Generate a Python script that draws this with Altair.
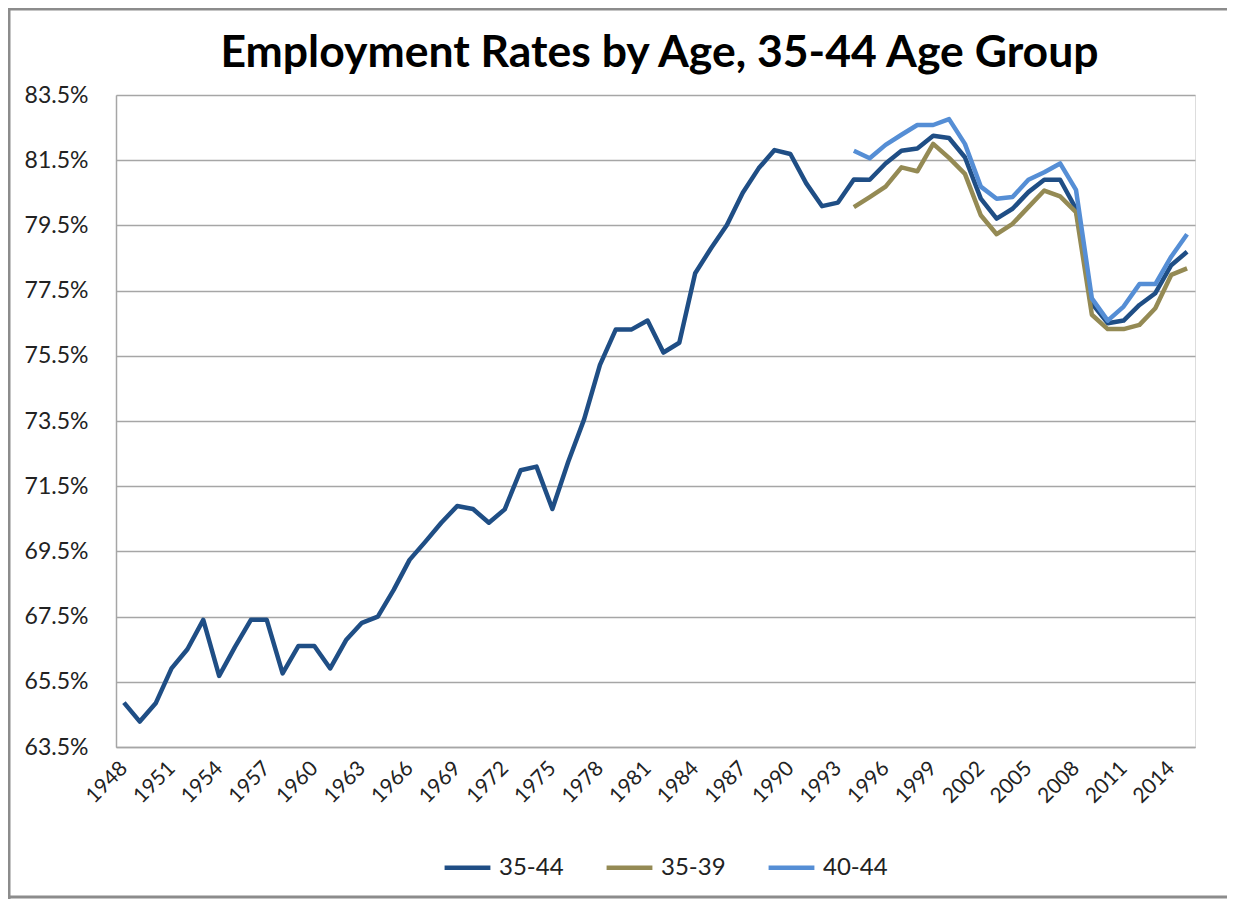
import altair as alt
import pandas as pd

years = list(range(1948, 2016))
rate_35_44 = [
    64.86, 64.28, 64.84, 65.91, 66.50, 67.40, 65.68, 66.57, 67.40, 67.40,
    65.76, 66.60, 66.60, 65.91, 66.78, 67.31, 67.50, 68.32, 69.24, 69.80,
    70.38, 70.89, 70.80, 70.38, 70.79, 71.99, 72.10, 70.80, 72.25, 73.55,
    75.22, 76.31, 76.31, 76.58, 75.60, 75.90, 78.03, 78.80, 79.51, 80.50,
    81.25, 81.81, 81.69, 80.79, 80.09, 80.20, 80.91, 80.90, 81.40, 81.79,
    81.86, 82.25, 82.18, 81.59, 80.32, 79.71, 80.01, 80.52, 80.90, 80.90,
    80.01, 77.11, 76.50, 76.58, 77.06, 77.42, 78.28, 78.69,
]
years_sub = list(range(1994, 2016))
rate_35_39 = [
    80.06, 80.37, 80.69, 81.28, 81.16, 82.00, 81.57, 81.08, 79.81, 79.23,
    79.55, 80.06, 80.57, 80.39, 79.91, 76.76, 76.32, 76.32, 76.45, 76.96,
    77.98, 78.18,
]
rate_40_44 = [
    81.79, 81.56, 81.97, 82.28, 82.58, 82.58, 82.76, 82.00, 80.69, 80.32,
    80.37, 80.90, 81.13, 81.40, 80.59, 77.26, 76.58, 77.01, 77.70, 77.70,
    78.54, 79.23,
]
series_names = ["35-44", "35-39", "40-44"]
series_colors = ["#1F4E85", "#948A54", "#558ED5"]
y_ticks = [63.5, 65.5, 67.5, 69.5, 71.5, 73.5, 75.5, 77.5, 79.5, 81.5, 83.5]
x_labels = list(range(1948, 2016, 3))
title_text = ["Employment Rates by Age, 35-44 Age Group"]

rows = []
for yr, v in zip(years, rate_35_44):
    rows.append({"year": yr, "rate": v, "series": "35-44"})
for yr, v in zip(years_sub, rate_35_39):
    rows.append({"year": yr, "rate": v, "series": "35-39"})
for yr, v in zip(years_sub, rate_40_44):
    rows.append({"year": yr, "rate": v, "series": "40-44"})
df = pd.DataFrame(rows)
title_df = pd.DataFrame({"title": title_text})

W, H = 1079, 652
FONT = "Lato"

lines = alt.Chart(df).mark_line(strokeWidth=4.5, strokeJoin="round").encode(
    x=alt.X("year:O", title=None,
            scale=alt.Scale(type="point", padding=0.5),
            axis=alt.Axis(values=x_labels, labelAngle=-45, labelAlign="right",
                          labelBaseline="middle", labelPadding=18, ticks=False,
                          grid=False, domain=True, domainColor="#A6A6A6",
                          domainWidth=1.5, labelFont=FONT, labelFontSize=21,
                          labelColor="#222222")),
    y=alt.Y("rate:Q", title=None,
            scale=alt.Scale(domain=[63.5, 83.5], nice=False, zero=False),
            axis=alt.Axis(values=y_ticks, labelExpr="format(datum.value, '.1f') + '%'",
                          ticks=False, grid=True, gridColor="#A6A6A6", gridWidth=1.5,
                          domain=True, domainColor="#A6A6A6", domainWidth=1.5,
                          labelFont=FONT, labelFontSize=23, labelColor="#222222",
                          labelPadding=28)),
    color=alt.Color("series:N",
                    scale=alt.Scale(domain=series_names, range=series_colors),
                    sort=series_names,
                    legend=alt.Legend(title=None, orient="none", direction="horizontal",
                                      legendX=326, legendY=747, symbolType="stroke",
                                      symbolSize=2100, symbolStrokeWidth=4.5,
                                      labelFont=FONT, labelFontSize=24,
                                      labelColor="#222222", labelOffset=6,
                                      columnPadding=33)),
    order=alt.Order("year:O"),
)

frame_style = dict(color="#8C8C8C", strokeWidth=3)
frame_top = alt.Chart(title_df).mark_rule(**frame_style).encode(
    x=alt.value(-108), x2=alt.value(W + 40), y=alt.value(-86))
frame_left = alt.Chart(title_df).mark_rule(**frame_style).encode(
    x=alt.value(-107), y=alt.value(-87), y2=alt.value(H + 152))
frame_bottom = alt.Chart(title_df).mark_rule(**frame_style).encode(
    x=alt.value(-108), x2=alt.value(W + 40), y=alt.value(H + 150))

title = alt.Chart(title_df).mark_text(
    font=FONT, fontSize=44.5, fontWeight="bold", color="#000000",
    align="center", baseline="alphabetic",
).encode(
    text="title:N",
    x=alt.value(W / 2 + 4), y=alt.value(-28),
)

chart = alt.layer(frame_top, frame_left, frame_bottom, lines, title).properties(
    width=W, height=H,
    autosize=alt.AutoSizeParams(type="none"),
    padding={"left": 108, "top": 87, "right": 32, "bottom": 152},
).configure_view(stroke=None).configure(background="white")

chart.save("out.html", embed_options={"renderer": "svg", "actions": False})
